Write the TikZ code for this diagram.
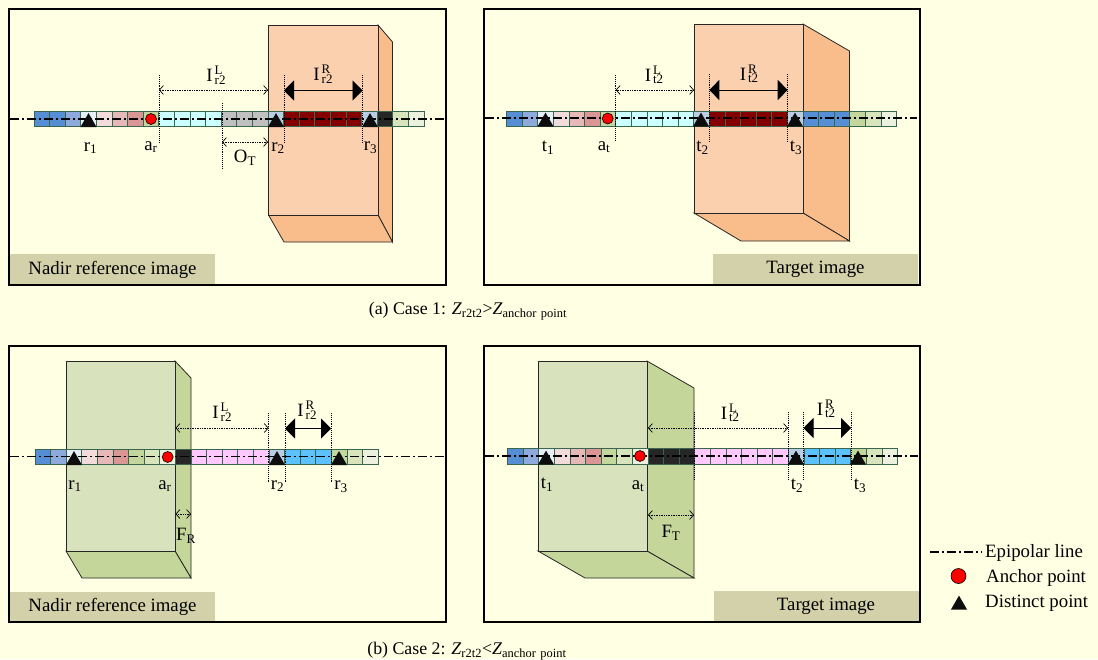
\documentclass[tikz,border=0pt]{standalone}
\usepackage{fontspec}
\setmainfont{Liberation Serif}
\usetikzlibrary{shapes.geometric,arrows.meta}
\definecolor{paper}{HTML}{FFFFE3}
\definecolor{tagbar}{HTML}{D2D1A9}
\definecolor{faceO}{HTML}{FBD0AF}
\definecolor{sideO}{HTML}{F9BD8C}
\definecolor{faceG}{HTML}{D8E3BE}
\definecolor{sideG}{HTML}{C4D69A}
\definecolor{rim}{HTML}{3A6650}
\definecolor{cA}{HTML}{558ED5}
\definecolor{cB}{HTML}{8EA9DB}
\definecolor{cC}{HTML}{E6EEF6}
\definecolor{cD}{HTML}{F2DCDB}
\definecolor{cE}{HTML}{E6B9B8}
\definecolor{cF}{HTML}{D99694}
\definecolor{cG}{HTML}{C3D69B}
\definecolor{cH}{HTML}{D7E4BC}
\definecolor{cI}{HTML}{EBF1DE}
\definecolor{cCy}{HTML}{CCFFFF}
\definecolor{cGr}{HTML}{C0C0C0}
\definecolor{cLb}{HTML}{B9CDE5}
\definecolor{cRd}{HTML}{840000}
\definecolor{cBk}{HTML}{262626}
\definecolor{cPk}{HTML}{FFC9FF}
\definecolor{cSk}{HTML}{5BC2FF}
\newcommand{\Ilen}[2]{I\kern2pt\rlap{\raisebox{7pt}{\fontsize{13}{13}\selectfont #1}}\raisebox{-2.5pt}{\fontsize{13}{13}\selectfont #2}}
\newcommand{\Sub}[2]{$\mathrm{#1}_{\mathrm{#2}}$}
\newcommand{\Zsub}[1]{\textit{Z}$_{\mathrm{#1}}$}

\begin{document}
\begin{tikzpicture}[x=1pt,y=-1pt,>=latex,font=\fontsize{18.8}{21}\selectfont]
	\tikzstyle{panel} = [line width=2.4pt]
	\tikzstyle{tagbox} = [fill=tagbar, minimum width=205pt, minimum height=30pt, inner sep=0pt, text height=14.5pt, text depth=4pt]
	\tikzstyle{edge} = [draw=black!85, line width=0.8pt]
	\tikzstyle{cell} = [draw=rim, line width=0.8pt, minimum width=15.6pt, minimum height=15.6pt, inner sep=0pt, outer sep=0pt, anchor=west]
	\tikzstyle{epi} = [line width=1.8pt, dash pattern=on 9pt off 3pt on 2pt off 3pt]
	\tikzstyle{dist} = [fill=black!95, regular polygon, regular polygon sides=3, minimum size=18.5pt, inner sep=0pt, outer sep=0pt, anchor=south]
	\tikzstyle{anch} = [circle, draw=black, fill=red, line width=0.6pt, minimum size=11pt, inner sep=0pt]
	\tikzstyle{guide} = [line width=0.9pt, densely dotted]
	\tikzstyle{gap} = [densely dotted, line width=0.7pt, {Straight Barb[length=4pt,width=9pt]}-{Straight Barb[length=4pt,width=9pt]}]
	\tikzstyle{span} = [line width=0.9pt, {Triangle[length=10pt,width=20pt]}-{Triangle[length=10pt,width=20pt]}]
	\tikzstyle{lbl} = [yshift=-1pt]
	\tikzstyle{keytxt} = [anchor=west, inner sep=0pt, yshift=-2pt]
	\tikzstyle{capt} = [font=\fontsize{17.8}{20}\selectfont, yshift=-1pt]

	\fill[paper] (0,0) rectangle (1098,659);
	\useasboundingbox (0,0) rectangle (1098,659);

	\node[tagbox] (TagA) at (112.5,269) {Nadir reference image};
	\node[tagbox] (TagB) at (815.5,268.5) {Target image};
	\node[tagbox] (TagC) at (112.5,606.5) {Nadir reference image};
	\node[tagbox] (TagD) at (816,605.5) {\hspace{20pt}Target image};
	\draw[panel] (9,9) rectangle (446,285);
	\draw[panel] (484,9) rectangle (920,285);
	\draw[panel] (9,346) rectangle (446,622);
	\draw[panel] (484,346) rectangle (920,622);

	\draw[edge,fill=sideO] (378,25) -- (392.5,42) -- (392.5,242) -- (378,215) -- cycle;
	\draw[edge,fill=sideO] (268.5,215) -- (378,215) -- (392.5,242) -- (284,242) -- cycle;
	\draw[edge,fill=faceO] (268.5,25) rectangle (378,215);
	\draw[edge,fill=sideO] (803,24) -- (849.5,51) -- (849.5,241) -- (803,213) -- cycle;
	\draw[edge,fill=sideO] (694,213) -- (803,213) -- (849.5,241) -- (741,241) -- cycle;
	\draw[edge,fill=faceO] (694,24) rectangle (803,213);
	\draw[edge,fill=sideG] (175,361) -- (191,378) -- (191,578) -- (175,551) -- cycle;
	\draw[edge,fill=sideG] (66,551) -- (175,551) -- (191,578) -- (82,578) -- cycle;
	\draw[edge,fill=faceG] (66,361) rectangle (175,551);
	\draw[edge,fill=sideG] (647,361) -- (694,388) -- (694,578) -- (647,551) -- cycle;
	\draw[edge,fill=sideG] (538,551) -- (647,551) -- (694,578) -- (585,578) -- cycle;
	\draw[edge,fill=faceG] (538,361) rectangle (647,551);

	\foreach \c [count=\i from 0] in {cA,cA,cB,cC,cD,cE,cF,cG,cCy,cCy,cCy,cCy,cGr,cGr,cGr,cLb,cRd,cRd,cRd,cRd,cRd,cLb,cBk,cH,cI}
		\node[cell,fill=\c] (CellA\i) at ({34+15.6*\i},119) {};
	\foreach \c [count=\i from 0] in {cA,cB,cC,cD,cE,cF,cG,cCy,cCy,cCy,cCy,cCy,cLb,cRd,cRd,cRd,cRd,cRd,cLb,cA,cA,cA,cG,cH,cI}
		\node[cell,fill=\c] (CellB\i) at ({506.5+15.6*\i},118.7) {};
	\foreach \c [count=\i from 0] in {cA,cB,cC,cD,cE,cF,cG,cH,cI,cBk,cPk,cPk,cPk,cPk,cPk,cLb,cSk,cSk,cSk,cG,cH,cI}
		\node[cell,fill=\c] (CellC\i) at ({35+15.6*\i},457) {};
	\foreach \c [count=\i from 0] in {cA,cB,cC,cD,cE,cF,cG,cH,cI,cBk,cBk,cBk,cPk,cPk,cPk,cPk,cPk,cPk,cLb,cSk,cSk,cSk,cG,cH,cI}
		\node[cell,fill=\c] (CellD\i) at ({507.5+15.6*\i},456.3) {};

	\coordinate (EpiAw) at (10,119);
	\coordinate (EpiAe) at (446,119);
	\coordinate (EpiBw) at (485,118);
	\coordinate (EpiBe) at (917,118);
	\coordinate (EpiCw) at (10,456.5);
	\coordinate (EpiCe) at (445,456.5);
	\coordinate (EpiDw) at (485,456);
	\coordinate (EpiDe) at (918,456);
	\draw[epi] (EpiAw) -- (EpiAe);
	\draw[epi] (EpiBw) -- (EpiBe);
	\draw[epi] (EpiCw) -- (EpiCe);
	\draw[epi] (EpiDw) -- (EpiDe);

	\node[dist] (r1A) at (88.5,127) {};
	\node[dist] (r2A) at (276,127) {};
	\node[dist] (r3A) at (370,127) {};
	\node[anch] (arA) at (151,119) {};
	\node[dist] (t1B) at (545.5,126.5) {};
	\node[dist] (t2B) at (701,126.5) {};
	\node[dist] (t3B) at (795,126.5) {};
	\node[anch] (atB) at (607.7,118.5) {};
	\node[dist] (r1C) at (74,465) {};
	\node[dist] (r2C) at (277,465) {};
	\node[dist] (r3C) at (339,465) {};
	\node[anch] (arC) at (167.7,457) {};
	\node[dist] (t1D) at (546,464.5) {};
	\node[dist] (t2D) at (796,464.5) {};
	\node[dist] (t3D) at (858,464.5) {};
	\node[anch] (atD) at (640,456) {};

	\coordinate (GaAt) at (159,75);
	\coordinate (GaAb) at (159,142);
	\coordinate (GoAt) at (222,103);
	\coordinate (GoAb) at (222,168);
	\coordinate (GlAt) at (284,75);
	\coordinate (GlAb) at (284,143);
	\coordinate (GrAt) at (362.5,75);
	\coordinate (GrAb) at (362.5,142);
	\draw[guide] (GaAt) -- (GaAb);
	\draw[guide] (GoAt) -- (GoAb);
	\draw[guide] (GlAt) -- (GlAb);
	\draw[guide] (GrAt) -- (GrAb);
	\coordinate (LAw) at (159,90);
	\coordinate (LAe) at (268,90);
	\coordinate (RAw) at (284,90.5);
	\coordinate (RAe) at (362.5,90.5);
	\coordinate (OAw) at (222,142);
	\coordinate (OAe) at (268,142);
	\draw[gap] (LAw) -- (LAe);
	\draw[span] (RAw) -- (RAe);
	\draw[gap] (OAw) -- (OAe);

	\coordinate (GaBt) at (615.7,75);
	\coordinate (GaBb) at (615.7,141);
	\coordinate (GlBt) at (709.3,74);
	\coordinate (GlBb) at (709.3,141);
	\coordinate (GrBt) at (787.7,74);
	\coordinate (GrBb) at (787.7,142);
	\draw[guide] (GaBt) -- (GaBb);
	\draw[guide] (GlBt) -- (GlBb);
	\draw[guide] (GrBt) -- (GrBb);
	\coordinate (LBw) at (615.7,90);
	\coordinate (LBe) at (694,90);
	\coordinate (RBw) at (709.3,90);
	\coordinate (RBe) at (787.7,90);
	\draw[gap] (LBw) -- (LBe);
	\draw[span] (RBw) -- (RBe);

	\coordinate (GlCt) at (268.7,413);
	\coordinate (GlCb) at (268.7,482);
	\coordinate (GmCt) at (285,413);
	\coordinate (GmCb) at (285,482);
	\coordinate (GrCt) at (331.7,413);
	\coordinate (GrCb) at (331.7,482);
	\draw[guide] (GlCt) -- (GlCb);
	\draw[guide] (GmCt) -- (GmCb);
	\draw[guide] (GrCt) -- (GrCb);
	\coordinate (LCw) at (175.5,428);
	\coordinate (LCe) at (268.7,428);
	\coordinate (RCw) at (285,428.5);
	\coordinate (RCe) at (331,428.5);
	\coordinate (FCw) at (175.5,514);
	\coordinate (FCe) at (191,514);
	\draw[gap] (LCw) -- (LCe);
	\draw[span] (RCw) -- (RCe);
	\draw[gap] (FCw) -- (FCe);

	\coordinate (GaDt) at (694,412);
	\coordinate (GaDb) at (694,480);
	\coordinate (GlDt) at (788,412);
	\coordinate (GlDb) at (788,480);
	\coordinate (GmDt) at (803.5,412);
	\coordinate (GmDb) at (803.5,480);
	\coordinate (GrDt) at (851,412);
	\coordinate (GrDb) at (851,480);
	\draw[guide] (GaDt) -- (GaDb);
	\draw[guide] (GlDt) -- (GlDb);
	\draw[guide] (GmDt) -- (GmDb);
	\draw[guide] (GrDt) -- (GrDb);
	\coordinate (LDw) at (648,428);
	\coordinate (LDe) at (788,428);
	\coordinate (RDw) at (803.5,428);
	\coordinate (RDe) at (851,428);
	\coordinate (FDw) at (648,515);
	\coordinate (FDe) at (694,515);
	\draw[gap] (LDw) -- (LDe);
	\draw[span] (RDw) -- (RDe);
	\draw[gap] (FDw) -- (FDe);

	\node[lbl] (LblA1) at (90.5,147) {\Sub{r}{1}};
	\node[lbl] (LblA2) at (151,146) {\Sub{a}{r}};
	\node[lbl] (LblA3) at (278,147) {\Sub{r}{2}};
	\node[lbl] (LblA4) at (370.5,147) {\Sub{r}{3}};
	\node[lbl] (LblA5) at (245,157) {\Sub{O}{T}};
	\node (LblA6) at (216,75) {\Ilen{L}{r2}};
	\node (LblA7) at (323,74) {\Ilen{R}{r2}};
	\node[lbl] (LblB1) at (548,147) {\Sub{t}{1}};
	\node[lbl] (LblB2) at (604,146) {\Sub{a}{t}};
	\node[lbl] (LblB3) at (702.5,147) {\Sub{t}{2}};
	\node[lbl] (LblB4) at (796,147) {\Sub{t}{3}};
	\node (LblB5) at (654,75) {\Ilen{L}{t2}};
	\node (LblB6) at (749,74) {\Ilen{R}{t2}};
	\node[lbl] (LblC1) at (75,485) {\Sub{r}{1}};
	\node[lbl] (LblC2) at (165,485) {\Sub{a}{r}};
	\node[lbl] (LblC3) at (277.5,485) {\Sub{r}{2}};
	\node[lbl] (LblC4) at (341,486) {\Sub{r}{3}};
	\node[lbl] (LblC5) at (186,535) {\Sub{F}{R}};
	\node (LblC6) at (222,412) {\Ilen{L}{r2}};
	\node (LblC7) at (307,410) {\Ilen{R}{r2}};
	\node[lbl] (LblD1) at (547,484) {\Sub{t}{1}};
	\node[lbl] (LblD2) at (638,485) {\Sub{a}{t}};
	\node[lbl] (LblD3) at (797,485) {\Sub{t}{2}};
	\node[lbl] (LblD4) at (860,485) {\Sub{t}{3}};
	\node[lbl] (LblD5) at (671,532) {\Sub{F}{T}};
	\node (LblD6) at (730,413) {\Ilen{L}{t2}};
	\node (LblD7) at (826,409) {\Ilen{R}{t2}};

	\node[capt] (CapA) at (468,310) {(a) Case 1: \Zsub{r2t2}>\Zsub{anchor\ point}};
	\node[capt] (CapB) at (467,650) {(b) Case 2: \Zsub{r2t2}<\Zsub{anchor\ point}};

	\coordinate (KeyW) at (930,552);
	\coordinate (KeyE) at (982,552);
	\draw[epi] (KeyW) -- (KeyE);
	\node[keytxt] (KeyEpi) at (985,551) {Epipolar line};
	\node[anch,minimum size=15pt] (KeyAnch) at (958.5,576) {};
	\node[keytxt] (KeyAnchTxt) at (986,576) {Anchor point};
	\node[dist] (KeyDist) at (959,609.5) {};
	\node[keytxt] (KeyDistTxt) at (985,601) {Distinct point};
\end{tikzpicture}
\end{document}
